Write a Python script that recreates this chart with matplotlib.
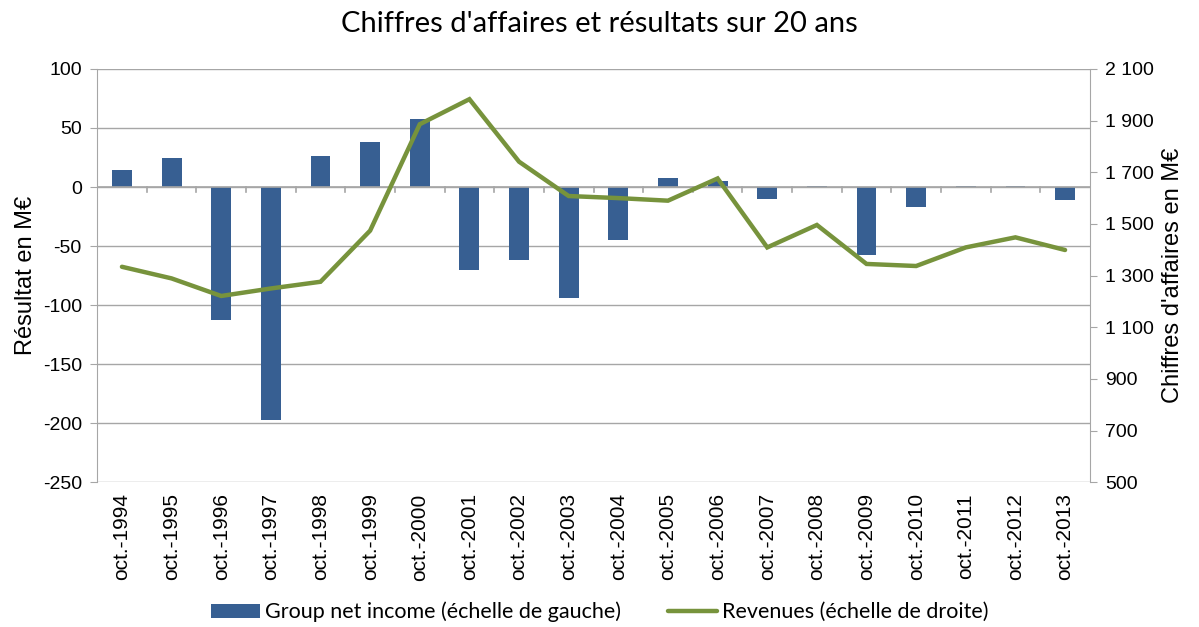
import matplotlib
matplotlib.use("Agg")
import matplotlib.pyplot as plt
from matplotlib.ticker import FuncFormatter
import numpy as np

years = ["oct.-1994", "oct.-1995", "oct.-1996", "oct.-1997", "oct.-1998", "oct.-1999",
         "oct.-2000", "oct.-2001", "oct.-2002", "oct.-2003", "oct.-2004", "oct.-2005",
         "oct.-2006", "oct.-2007", "oct.-2008", "oct.-2009", "oct.-2010", "oct.-2011",
         "oct.-2012", "oct.-2013"]
net_income = [14, 25, -113, -197, 26, 38, 58, -70, -62, -94, -45, 8, 5, -10, 1,
              -58, -17, 1, 1, -11]
revenues = [1334, 1289, 1221, 1250, 1276, 1474, 1886, 1983, 1741, 1608, 1600, 1590,
            1676, 1409, 1496, 1345, 1337, 1409, 1448, 1399]
left_ticks = [-250, -200, -150, -100, -50, 0, 50, 100]
right_ticks = [500, 700, 900, 1100, 1300, 1500, 1700, 1900, 2100]

bar_color = "#375F92"
line_color = "#77933C"
grid_color = "#A6A6A6"
cal_font = "Lato"

plt.rcParams["font.family"] = ["Liberation Sans", "DejaVu Sans"]

fig = plt.figure(figsize=(11.99, 6.27), dpi=100)
ax = fig.add_axes([0.081, 0.231, 0.828, 0.659])
ax2 = ax.twinx()

x = np.arange(len(years))
ax.set_zorder(1)
ax2.set_zorder(2)
ax2.patch.set_visible(False)

bars = ax.bar(x, net_income, width=0.4, color=bar_color, zorder=3)
line, = ax2.plot(x, revenues, color=line_color, lw=3.2, solid_capstyle="round",
                 solid_joinstyle="miter")

ax.set_xlim(-0.5, len(years) - 0.5)
ax.set_ylim(-250, 100)
ax2.set_ylim(500, 2100)
ax.set_yticks(left_ticks)
ax2.set_yticks(right_ticks)
ax.yaxis.set_major_formatter(FuncFormatter(lambda v, p: f"{int(v)}"))
ax2.yaxis.set_major_formatter(FuncFormatter(lambda v, p: f"{int(v):,}".replace(",", " ")))

for t in left_ticks:
    ax.axhline(t, color=grid_color, lw=1.0, zorder=1)

for s in ["left", "right", "top", "bottom"]:
    ax.spines[s].set_visible(False)
    ax2.spines[s].set_visible(False)
ax.spines["left"].set_visible(True)
ax.spines["left"].set_color(grid_color)
ax2.spines["right"].set_visible(True)
ax2.spines["right"].set_color(grid_color)

ax.set_xticks(x)
ax.set_xticklabels(years, rotation=90, fontsize=15)
ax.tick_params(axis="x", length=0, pad=8)
ax.axhline(0, color=grid_color, lw=1.2, zorder=4)
for xm in np.arange(0.5, len(years) - 0.5, 1):
    ax.plot([xm, xm], [0, -4.5], color=grid_color, lw=1.2, zorder=4, clip_on=False)

ax.tick_params(axis="y", length=5, color=grid_color, labelsize=14, pad=6)
ax2.tick_params(axis="y", length=5, color=grid_color, labelsize=14, pad=6)

ax.set_ylabel("Résultat en M€", fontsize=17, labelpad=4)
ax2.set_ylabel("Chiffres d'affaires en M€", fontsize=17, labelpad=6)

fig.suptitle("Chiffres d'affaires et résultats sur 20 ans", x=0.5, y=0.983,
             fontsize=21, family=cal_font)

leg = fig.legend([bars, line], ["Group net income (échelle de gauche)", "Revenues (échelle de droite)"],
                 loc="center", bbox_to_anchor=(0.5, 0.024), ncol=2, frameon=False,
                 prop={"family": cal_font, "size": 15.5}, handlelength=2.3, handleheight=0.65,
                 handletextpad=0.2, columnspacing=2.2)

fig.savefig("out.png", dpi=100)
